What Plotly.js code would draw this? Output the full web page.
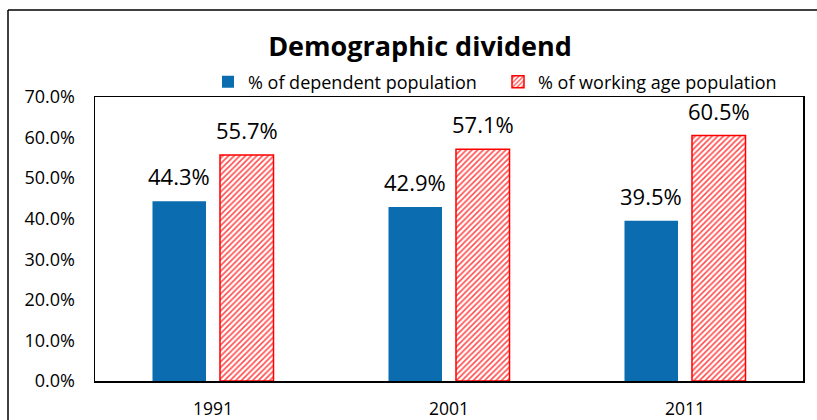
<!DOCTYPE html>
<html>
<head>
<meta charset="utf-8">
<script src="https://cdn.plot.ly/plotly-3.0.1.min.js"></script>
<style>
html,body{margin:0;padding:0;background:#fff;}
#chart{width:817px;height:420px;}
</style>
</head>
<body>
<div id="chart"></div>
<script>
const years = ['1991', '2001', '2011'];
const dependent = [0.443, 0.429, 0.395];
const working = [0.557, 0.571, 0.605];
const seriesNames = ['% of dependent population', '% of working age population'];
const yTicks = [0, 0.1, 0.2, 0.3, 0.4, 0.5, 0.6, 0.7];

const FONT = '"Open Sans", Lato, sans-serif';
const BLUE = '#0b6db0';
const RED = '#ff0000';

const traces = [
  {
    type: 'bar', name: seriesNames[0], x: years, y: dependent,
    marker: {color: BLUE, line: {width: 0}},
    hoverinfo: 'skip'
  },
  {
    type: 'bar', name: seriesNames[1], x: years, y: working,
    marker: {color: '#ffffff', line: {color: RED, width: 1.5},
      pattern: {shape: '/', fgcolor: RED, bgcolor: '#ffffff', size: 4, solidity: 0.4, fgopacity: 0.7}},
    hoverinfo: 'skip'
  }
];

const annotations = [];
years.forEach((yr, i) => {
  [[dependent, -33.75], [working, 33.75]].forEach(([arr, dx]) => {
    annotations.push({
      x: i, y: arr[i], xref: 'x', yref: 'y',
      text: (arr[i] * 100).toFixed(1) + '%',
      showarrow: false, xanchor: 'center', yanchor: 'bottom',
      xshift: dx, yshift: 8,
      font: {family: FONT, size: 22, color: '#000'}
    });
  });
});

const L = 95, R = 14, T = 97, B = 39, W = 817, H = 420;
const pw = W - L - R, ph = H - T - B;
const px = v => (v - L) / pw;
const py = v => (H - B - v) / ph;

const layout = {
  width: W, height: H,
  margin: {l: L, r: R, t: T, b: B, pad: 0},
  paper_bgcolor: '#ffffff', plot_bgcolor: '#ffffff',
  font: {family: FONT, color: '#000'},
  title: {
    text: '<b>Demographic dividend</b>',
    font: {family: FONT, size: 27, color: '#000'},
    x: 420 / W, xref: 'container', xanchor: 'center',
    y: 1 - 47 / H, yref: 'container', yanchor: 'middle'
  },
  showlegend: true,
  legend: {
    orientation: 'h', x: px(208), y: py(82), xanchor: 'left', yanchor: 'middle',
    font: {family: FONT, size: 18, color: '#000'},
    itemwidth: 30, traceorder: 'normal', bgcolor: 'rgba(0,0,0,0)',
    entrywidth: 245, entrywidthmode: 'pixels'
  },
  barmode: 'group', bargap: 0.428, bargroupgap: 0.207,
  xaxis: {
    type: 'category', range: [-0.5, 2.5], showgrid: false, zeroline: false,
    showline: true, mirror: true, linecolor: '#000', linewidth: 1.5,
    ticks: 'outside', ticklen: 11, tickcolor: 'rgba(0,0,0,0)',
    tickfont: {family: FONT, size: 17.5, color: '#000'}
  },
  yaxis: {
    range: [0, 0.7], tickvals: yTicks, tickformat: '.1%',
    showgrid: false, zeroline: false,
    showline: true, mirror: true, linecolor: '#000', linewidth: 1.5,
    ticks: 'outside', ticklen: 15, tickcolor: 'rgba(0,0,0,0)',
    tickfont: {family: FONT, size: 18, color: '#000'}
  },
  annotations: annotations,
  shapes: [
    {type: 'line', xref: 'paper', yref: 'paper', x0: px(8), x1: px(8), y0: py(430), y1: py(10), line: {color: '#000', width: 1.5}},
    {type: 'line', xref: 'paper', yref: 'paper', x0: px(8), x1: px(830), y0: py(10), y1: py(10), line: {color: '#000', width: 1.5}}
  ]
};

Plotly.newPlot('chart', traces, layout, {displayModeBar: false, staticPlot: true});
</script>
</body>
</html>
